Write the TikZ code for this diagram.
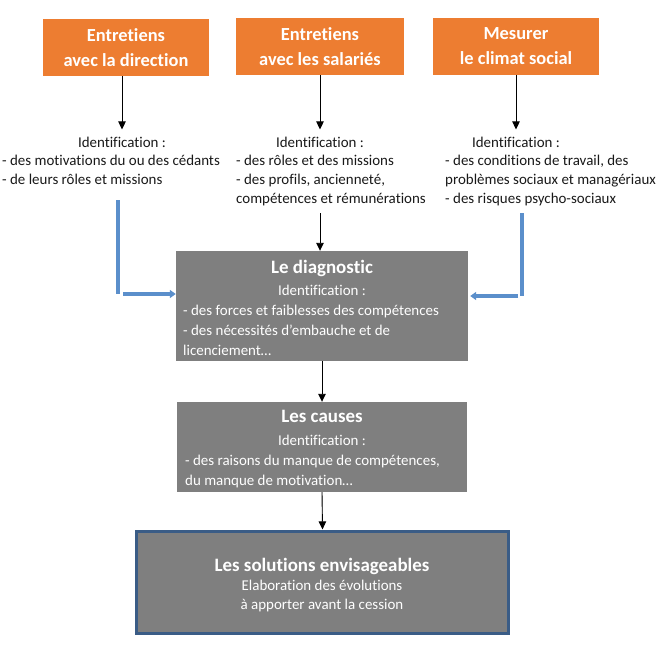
\documentclass[tikz,border=0pt]{standalone}
\usepackage{fontspec}
\setmainfont[Ligatures=NoCommon]{Carlito}
\usetikzlibrary{arrows.meta}
\definecolor{orng}{HTML}{ED7D31}
\definecolor{gry}{HTML}{7F7F7F}
\definecolor{blu}{HTML}{5B8FCB}
\definecolor{navyb}{HTML}{3A5C86}
\begin{document}
\begin{tikzpicture}[x=1bp,y=-1bp,
  orangebox/.style={fill=orng, text=white, font=\bfseries\fontsize{18.5}{25}\selectfont, align=center, inner sep=0, minimum width=166bp, minimum height=57bp},
  graybox/.style={fill=gry, inner sep=0},
  txt/.style={font=\fontsize{15}{18}\selectfont, inner sep=0, text=black!90},
  wtxt/.style={txt, text=white},
  ttl/.style={font=\bfseries\fontsize{19}{22}\selectfont, text=white, inner sep=0},
  arr/.style={-{Triangle[width=7.5bp,length=8bp]}, line width=0.9bp, draw=black, fill=black},
  bline/.style={line width=3.5bp, draw=blu},
  barr/.style={line width=3.5bp, draw=blu, -{Triangle[width=8bp,length=6bp]}}
]
\useasboundingbox (0,0) rectangle (664,648);
\fill[white] (0,0) rectangle (664,648);

% orange boxes
\node[orangebox] (o1) at (126,47.5) {Entretiens\\avec la direction};
\node[orangebox, minimum width=168bp] (o2) at (320,46.5) {Entretiens\\avec les salariés};
\node[orangebox] (o3) at (516,46.5) {Mesurer\\le climat social};

% identification blocks
\node[txt, anchor=base] (id1) at (122,148) {Identification :};
\node[txt, anchor=base west] (l11) at (2,166) {- des motivations du ou des cédants};
\node[txt, anchor=base west] (l12) at (2,185) {- de leurs rôles et missions};

\node[txt, anchor=base] (id2) at (320,148) {Identification :};
\node[txt, anchor=base west] (l21) at (236,166) {- des rôles et des missions};
\node[txt, anchor=base west] (l22) at (236,185) {- des profils, ancienneté,};
\node[txt, anchor=base west] (l23) at (236,203) {compétences et rémunérations};

\node[txt, anchor=base] (id3) at (516,148) {Identification :};
\node[txt, anchor=base west] (l31) at (445,166) {- des conditions de travail, des};
\node[txt, anchor=base west] (l32) at (445,185) {problèmes sociaux et managériaux};
\node[txt, anchor=base west] (l33) at (445,203) {- des risques psycho-sociaux};

% diagnostic
\node[graybox, minimum width=292bp, minimum height=110bp] (diag) at (322,306) {};
\node[ttl, anchor=base] (dt) at (322,273.5) {Le diagnostic};
\node[wtxt, anchor=base] (did) at (322,295) {Identification :};
\node[wtxt, anchor=base west] (d1) at (183,315) {- des forces et faiblesses des compétences};
\node[wtxt, anchor=base west] (d2) at (183,335) {- des nécessités d’embauche et de};
\node[wtxt, anchor=base west] (d3) at (183,355) {licenciement…};

% causes
\node[graybox, minimum width=290bp, minimum height=90bp] (caus) at (322,447) {};
\node[ttl, anchor=base] (ct) at (322,422.5) {Les causes};
\node[wtxt, anchor=base] (cid) at (322,445) {Identification :};
\node[wtxt, anchor=base west] (c1) at (185,465) {- des raisons du manque de compétences,};
\node[wtxt, anchor=base west] (c2) at (185,485) {du manque de motivation…};

% solutions
\node[graybox, draw=navyb, line width=2.2bp, minimum width=372bp, minimum height=102bp] (sol) at (322.5,582.5) {};
\node[ttl, anchor=base] (st) at (322,571.5) {Les solutions envisageables};
\node[wtxt, anchor=base] (s1) at (322,590) {Elaboration des évolutions};
\node[wtxt, anchor=base] (s2) at (322,609) {à apporter avant la cession};

% black arrows
\draw[arr] (o1.south -| id1) -- ([yshift=8bp]id1.north);
\draw[arr] (o2.south -| id2) -- ([yshift=8bp]id2.north);
\draw[arr] (o3.south -| id3) -- ([yshift=8bp]id3.north);
\coordinate (c2top) at (320,213);
\draw[arr] (c2top) -- (c2top |- diag.north);
\draw[arr] (diag.south) -- (caus.north);
\draw[arr] (caus.south) -- ([yshift=1bp]sol.north);

% blue arrows
\coordinate (bl0) at (118,200);
\coordinate (bl1) at (118,294);
\coordinate (br0) at (522,213);
\coordinate (br1) at (522,296);
\draw[bline] (bl0) -- (bl1);
\draw[barr] ([xshift=5bp]bl1) -- (bl1 -| diag.west);
\draw[bline] (br0) -- (br1);
\draw[barr] ([xshift=-4bp]br1) -- ([xshift=2bp]br1 -| diag.east);
\end{tikzpicture}
\end{document}
